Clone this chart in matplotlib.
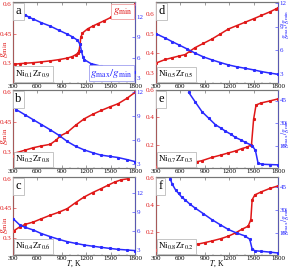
import numpy as np
import matplotlib
matplotlib.use("Agg")
import matplotlib.pyplot as plt
from matplotlib.transforms import blended_transform_factory

plt.rcParams['font.family'] = 'Liberation Serif'
plt.rcParams['mathtext.fontset'] = 'stix'

red = '#e01818'
blue = '#2a2aff'

# ---- data ----
# panel a: Ni0.1Zr0.9
Ta_r = [321, 383, 450, 550, 650, 758, 860, 967, 1030, 1071, 1100, 1112, 1125, 1133, 1154, 1217, 1280, 1342, 1420, 1508, 1600, 1717, 1779, 1800]
ga_r = [0.295, 0.298, 0.300, 0.303, 0.307, 0.312, 0.318, 0.326, 0.334, 0.343, 0.352, 0.363, 0.395, 0.431, 0.453, 0.474, 0.488, 0.500, 0.515, 0.533, 0.548, 0.568, 0.590, 0.600]
Ta_b = [446, 500, 550, 650, 758, 860, 967, 1030, 1092, 1125, 1142, 1160, 1175, 1258, 1383, 1508, 1650, 1758, 1800]
ra_b = [12.4, 12.0, 11.75, 11.2, 10.7, 10.1, 9.5, 9.1, 8.6, 7.96, 6.95, 6.1, 5.7, 5.1, 4.7, 4.4, 4.1, 3.9, 3.8]

# panel b: Ni0.2Zr0.8
Tb_r = [308, 342, 450, 550, 650, 758, 830, 883, 967, 1070, 1175, 1280, 1383, 1490, 1592, 1700, 1800]
gb_r = [0.28, 0.297, 0.31, 0.322, 0.331, 0.339, 0.36, 0.382, 0.399, 0.435, 0.467, 0.49, 0.509, 0.527, 0.543, 0.57, 0.60]
Tb_b = [300, 342, 450, 550, 650, 758, 860, 967, 1070, 1175, 1280, 1383, 1490, 1592, 1700, 1800]
rb_b = [10.25, 9.75, 9.1, 8.5, 7.9, 7.25, 6.6, 5.8, 5.2, 4.75, 4.4, 4.1, 3.95, 3.8, 3.55, 3.3]

# panel c: Ni0.4Zr0.6
Tc_r = [308, 383, 450, 550, 650, 758, 860, 967, 1070, 1175, 1280, 1383, 1470, 1550, 1633, 1717]
gc_r = [0.334, 0.355, 0.368, 0.38, 0.397, 0.415, 0.43, 0.449, 0.48, 0.509, 0.532, 0.552, 0.57, 0.586, 0.598, 0.603]
Tc_b = [300, 383, 450, 550, 650, 758, 860, 967, 1070, 1175, 1280, 1383, 1490, 1592, 1700, 1800]
rc_b = [8.0, 6.97, 6.6, 6.17, 5.6, 5.12, 4.7, 4.32, 4.05, 3.79, 3.6, 3.42, 3.25, 3.1, 3.0, 2.9]

# panel d: Ni0.5Zr0.5
Td_r = [300, 414, 500, 577, 659, 720, 781, 880, 985, 1090, 1189, 1290, 1392, 1500, 1596, 1700, 1780, 1800]
gd_r = [0.351, 0.369, 0.378, 0.386, 0.394, 0.412, 0.429, 0.45, 0.472, 0.498, 0.523, 0.54, 0.557, 0.575, 0.592, 0.61, 0.626, 0.631]
Td_b = [300, 414, 500, 577, 680, 781, 880, 985, 1090, 1189, 1290, 1392, 1500, 1596, 1700, 1800]
rd_b = [8.1, 7.56, 7.1, 6.72, 6.2, 5.66, 5.2, 4.82, 4.48, 4.18, 3.95, 3.76, 3.55, 3.34, 3.15, 3.0]

# panel e: Ni0.7Zr0.3
Te_r = [300, 450, 600, 700, 800, 862, 985, 1100, 1189, 1280, 1352, 1420, 1474, 1500, 1530, 1590, 1700, 1800]
ge_r = [0.04, 0.05, 0.06, 0.068, 0.076, 0.083, 0.107, 0.125, 0.14, 0.155, 0.171, 0.183, 0.20, 0.386, 0.49, 0.505, 0.52, 0.535]
Te_b = [702, 784, 866, 948, 1030, 1100, 1153, 1220, 1276, 1340, 1399, 1481, 1522, 1555, 1604, 1700, 1800]
re_b = [50.4, 43.9, 37.5, 33.2, 28.9, 26.5, 24.6, 22.5, 20.4, 18.8, 17.1, 15.0, 11.8, 3.2, 2.5, 2.3, 2.1]

# panel f: Ni0.8Zr0.2
Tf_r = [300, 450, 600, 700, 822, 900, 985, 1100, 1189, 1280, 1352, 1433, 1466, 1482, 1515, 1596, 1700, 1800]
gf_r = [0.07, 0.077, 0.085, 0.095, 0.112, 0.122, 0.134, 0.152, 0.17, 0.195, 0.22, 0.244, 0.293, 0.44, 0.477, 0.5, 0.525, 0.544]
Tf_b = [475, 496, 540, 577, 620, 659, 720, 781, 880, 985, 1090, 1189, 1290, 1392, 1453, 1482, 1515, 1596, 1700, 1800]
rf_b = [50.4, 47.1, 43, 40.7, 38, 36.4, 33.5, 31.1, 27.5, 23.6, 20.2, 17.1, 14.8, 12.9, 10.7, 4.3, 3.2, 2.8, 2.3, 1.7]

panels = [
    # letter, comp, T_r, g, T_b, r, left ylim, right ylim, left ticks, right ticks, column, row
    ('a', r'Ni$_{0.1}$Zr$_{0.9}$', Ta_r, ga_r, Ta_b, ra_b, (0.2, 0.61), (2.2, 14.3), [0.3, 0.45, 0.6], [3, 6, 9, 12], 0, 0),
    ('b', r'Ni$_{0.2}$Zr$_{0.8}$', Tb_r, gb_r, Tb_b, rb_b, (0.22, 0.612), (2.5, 12.2), [0.3, 0.45, 0.6], [3, 6, 9, 12], 0, 1),
    ('c', r'Ni$_{0.4}$Zr$_{0.6}$', Tc_r, gc_r, Tc_b, rc_b, (0.21, 0.612), (2.2, 14.6), [0.3, 0.45, 0.6], [3, 6, 9, 12], 0, 2),
    ('d', r'Ni$_{0.5}$Zr$_{0.5}$', Td_r, gd_r, Td_b, rd_b, (0.25, 0.66), (1.9, 12.1), [0.3, 0.4, 0.5, 0.6], [3, 6, 9, 12], 1, 0),
    ('e', r'Ni$_{0.7}$Zr$_{0.3}$', Te_r, ge_r, Te_b, re_b, (0.03, 0.6), (0, 52), [0.2, 0.4, 0.6], [15, 30, 45], 1, 1),
    ('f', r'Ni$_{0.8}$Zr$_{0.2}$', Tf_r, gf_r, Tf_b, rf_b, (0.03, 0.61), (0.4, 51.4), [0.2, 0.4, 0.6], [15, 30, 45], 1, 2),
]

# where the side labels sit (axes fraction, vertical)
label_y = {'a': 0.42, 'b': 0.4, 'c': 0.38, 'd': 0.72, 'e': 0.45, 'f': 0.45}

W, H = 291, 269
fig = plt.figure(figsize=(W / 100, H / 100), dpi=100)

cols = [(13, 135), (156, 278)]
rows = [(2, 83), (90, 168), (177, 255)]

gmin_lab = r'$g_{\rm min}$'
ratio_lab = r'$g_{\rm max}/g_{\rm min}$'

for letter, comp, Tr, g, Tb, r, yl, yr, lt, rt, ci, ri in panels:
    x0, x1 = cols[ci]
    y0, y1 = rows[ri]
    ax = fig.add_axes([x0 / W, 1 - y1 / H, (x1 - x0) / W, (y1 - y0) / H])
    ax2 = ax.twinx()

    ax.plot(Tr, g, '-', color=red, lw=1.1, marker='s', ms=1.2, zorder=3)
    ax2.plot(Tb, r, '-', color=blue, lw=1.1, marker='s', ms=1.2, zorder=3)

    ax.set_xlim(300, 1800)
    ax.set_ylim(*yl)
    ax2.set_ylim(*yr)
    ax.set_xticks([300, 600, 900, 1200, 1500, 1800])
    ax.set_xticks(np.arange(300, 1801, 100), minor=True)
    ax.set_yticks(lt)
    ax.set_yticklabels([('%g' % v) for v in lt])
    ax2.set_yticks(rt)

    ax.tick_params(axis='x', labelsize=5, pad=1, length=2, width=0.4, direction='in',
                   top=True, colors='#555555', labelcolor='black')
    ax.tick_params(axis='x', which='minor', length=1, width=0.3, direction='in', top=True, colors='#777777')
    ax.tick_params(axis='y', labelsize=5, pad=1, length=2, width=0.4, direction='in',
                   colors=red, labelcolor=red)
    ax2.tick_params(axis='y', labelsize=5, pad=1, length=2, width=0.4, direction='in',
                    colors=blue, labelcolor=blue)

    for s in ['top', 'bottom']:
        ax2.spines[s].set_color('#aaaaaa')
        ax2.spines[s].set_linewidth(0.5)
    ax2.spines['left'].set_color('#f08080')
    ax2.spines['right'].set_color('#8080ff')
    ax2.spines['left'].set_linewidth(0.5)
    ax2.spines['right'].set_linewidth(0.5)

    box = dict(boxstyle='square,pad=0.2', fc='white', ec='#bbbbbb', lw=0.6)
    ax2.text(0.02, 0.96, letter, transform=ax.transAxes, fontsize=9, va='top', ha='left',
             bbox=box, zorder=10)
    ax2.text(0.02, 0.04, comp, transform=ax.transAxes, fontsize=6.5, va='bottom', ha='left',
             bbox=box, zorder=10)

    tr = blended_transform_factory(fig.transFigure, ax.transAxes)
    if ci == 0:
        fig.text(5 / W, label_y[letter], gmin_lab, transform=tr, color=red, fontsize=7,
                 rotation=90, ha='center', va='center')
    else:
        fig.text(285 / W, label_y[letter], ratio_lab, transform=tr, color=blue, fontsize=5.5,
                 rotation=90, ha='center', va='center')

    if ri == 2:
        ax.text(0.5, -0.05, r'$T$, K', transform=ax.transAxes, fontsize=5.5, ha='center', va='top')

    if letter == 'a':
        ax2.text(0.98, 0.95, gmin_lab, transform=ax.transAxes, fontsize=8, color=red,
                 ha='right', va='top', zorder=10,
                 bbox=dict(boxstyle='square,pad=0.15', fc='white', ec='#f0a0a0', lw=0.6))
        ax2.text(0.98, 0.04, ratio_lab, transform=ax.transAxes, fontsize=8, color=blue,
                 ha='right', va='bottom', zorder=10,
                 bbox=dict(boxstyle='square,pad=0.15', fc='white', ec='#a0a0f0', lw=0.6))

fig.savefig('out.png', dpi=100)
